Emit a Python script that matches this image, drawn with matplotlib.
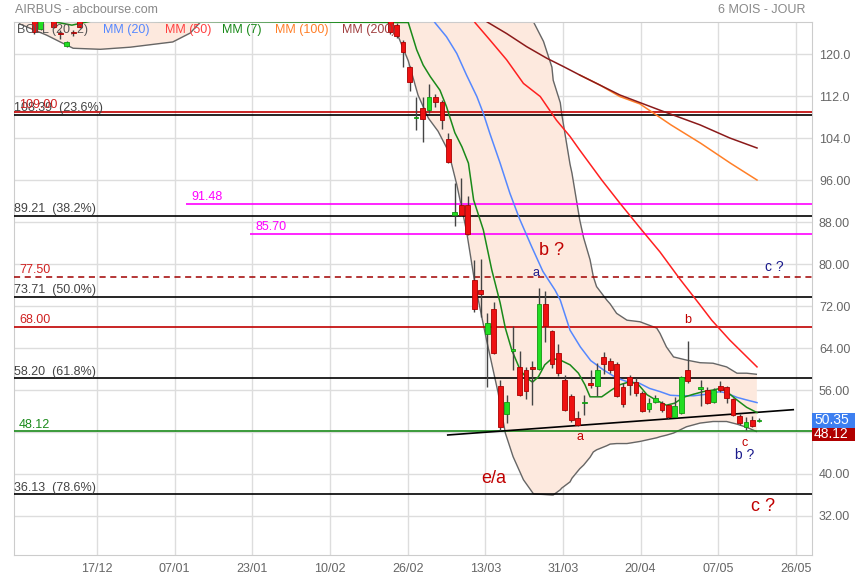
import matplotlib
matplotlib.use('Agg')
import numpy as np
import matplotlib.pyplot as plt
from matplotlib import font_manager
from matplotlib.patches import Rectangle

names = {f.name for f in font_manager.fontManager.ttflist}
base_font = 'Liberation Sans' if 'Liberation Sans' in names else 'DejaVu Sans'
narrow_font = 'Liberation Sans Narrow' if 'Liberation Sans Narrow' in names else base_font
plt.rcParams['font.family'] = [base_font, 'DejaVu Sans']

# --- candles (bar index, 17/12 = 0) ---
c_idx = [-10, -9, -7, -6, -5, -4, -3,
         45, 46, 47, 48, 49, 50, 51, 52, 53, 54, 55, 56, 57, 58, 59, 60,
         61, 62, 63, 64, 65, 66, 67, 68, 69, 70, 71, 72, 73, 74, 75, 76,
         77, 78, 79, 80, 81, 82, 83, 84, 85, 86, 87, 88, 89, 90, 91,
         93, 94, 95, 96, 97, 98, 99, 100, 101, 102]
c_open = [127.5, 124.7, 127.0, 124.0, 121.6, 124.2, 127.0,
          128.0, 125.6, 122.3, 117.5, 107.8, 109.8, 109.4, 111.9, 110.9, 103.9, 89.3, 91.3, 91.3, 77.0, 75.0, 66.7,
          71.4, 56.8, 51.4, 63.5, 60.4, 59.9, 60.4, 60.0, 72.4, 67.2, 63.0, 58.0, 54.9, 50.6, 53.5, 57.4,
          56.8, 62.3, 61.6, 61.0, 56.5, 58.4, 57.6, 55.5, 52.4, 53.8, 53.6, 53.1, 50.9, 51.6, 59.9,
          56.1, 56.0, 53.8, 56.8, 56.5, 54.3, 51.0, 49.0, 50.2, 50.1]
c_high = [128.0, 127.5, 127.5, 124.6, 122.4, 124.6, 127.5,
          128.5, 126.0, 122.6, 117.7, 111.9, 111.9, 114.3, 112.4, 111.2, 105.0, 95.4, 96.4, 92.9, 80.8, 80.9, 70.6,
          72.8, 58.0, 55.0, 68.2, 63.5, 60.4, 61.5, 75.4, 74.9, 67.5, 64.8, 58.8, 55.3, 52.0, 55.0, 59.8,
          61.1, 63.3, 62.1, 61.3, 57.3, 58.8, 58.2, 55.9, 54.4, 55.0, 54.0, 53.3, 54.7, 58.6, 65.3,
          57.9, 56.5, 56.3, 57.7, 56.8, 54.5, 51.5, 50.8, 51.0, 50.6]
c_low = [123.8, 124.5, 124.9, 122.8, 121.3, 123.4, 125.0,
         123.9, 123.0, 117.6, 113.0, 105.6, 103.3, 108.8, 110.0, 105.8, 99.3, 87.2, 89.2, 85.6, 70.9, 70.0, 56.6,
         62.8, 48.4, 49.8, 59.8, 54.9, 54.3, 53.1, 59.8, 65.2, 60.1, 58.6, 52.0, 50.0, 49.1, 51.2, 56.3,
         54.9, 59.0, 59.3, 54.6, 52.8, 55.0, 54.9, 51.8, 51.9, 53.5, 51.9, 50.4, 50.8, 51.4, 57.3,
         53.0, 53.4, 53.6, 55.6, 53.6, 51.0, 49.3, 48.4, 48.9, 50.0]
c_close = [124.1, 127.0, 125.1, 123.8, 122.2, 124.0, 125.2,
           124.2, 123.4, 120.3, 114.7, 108.0, 107.6, 111.9, 110.9, 107.5, 99.4, 89.9, 89.4, 85.8, 71.4, 74.3, 68.8,
           63.0, 49.0, 53.8, 63.9, 55.0, 55.9, 60.0, 72.4, 68.1, 60.9, 59.3, 52.1, 50.2, 49.3, 53.7, 57.0,
           59.8, 60.9, 59.9, 54.9, 53.3, 56.9, 55.5, 52.0, 53.6, 54.4, 52.2, 50.9, 52.9, 58.4, 57.7,
           56.5, 53.6, 56.0, 56.0, 54.4, 51.2, 49.7, 50.0, 49.1, 50.35]

# --- moving averages (bar index, value) ---
mm7_x = [-7.6, -4.2, -1.1, 47.8, 49.1, 50.1, 51.2, 52.7, 53.7, 55.0, 56.1, 57.1, 57.9, 59.4, 60.7, 62.0,
         62.8, 63.8, 65.1, 66.1, 67.0, 67.9, 68.9, 70.0, 71.3, 72.8, 74.1, 75.1, 75.9, 77.7, 79.2, 80.5,
         82.1, 83.4, 84.7, 86.2, 87.7, 89.0, 90.3, 91.9, 93.4, 94.9, 96.0, 97.0, 98.6, 100.1, 101.7]
mm7_y = [126.3, 125.5, 126.3, 126.0, 120.8, 117.9, 115.7, 113.1, 110.0, 105.0, 102.3, 99.2, 92.2, 86.5, 78.9, 72.6,
         67.8, 63.6, 59.8, 58.3, 57.5, 58.5, 60.8, 62.0, 61.7, 60.8, 59.2, 57.0, 54.7, 54.7, 56.0, 57.0,
         57.6, 57.0, 55.1, 54.0, 53.1, 53.5, 54.6, 55.2, 55.7, 56.0, 56.3, 55.7, 54.1, 52.7, 51.7]
mm20_x = [51.9, 53.7, 55.3, 56.8, 58.4, 59.4, 60.4, 62.0, 63.5, 65.0, 66.8, 68.6, 70.5, 71.3, 72.8, 74.4,
          76.0, 78.0, 80.0, 81.6, 83.5, 85.1, 86.7, 88.3, 89.8, 91.9, 94.0, 96.0, 97.0, 98.6, 100.1, 101.7]
mm20_y = [126.0, 123.3, 120.1, 116.0, 111.9, 108.7, 104.9, 99.2, 93.5, 88.6, 83.5, 78.6, 75.0, 73.1, 67.4, 64.2,
          61.6, 59.8, 58.3, 57.6, 57.3, 56.3, 55.7, 55.0, 54.9, 54.9, 55.2, 55.7, 55.4, 54.6, 54.1, 53.6]
mm50_x = [58.1, 60.4, 63.0, 65.6, 68.2, 70.7, 72.8, 74.3, 77.7, 80.5, 83.6, 86.7, 89.8, 92.9, 94.7, 97.5, 101.7]
mm50_y = [126.0, 122.7, 118.9, 114.4, 111.9, 107.4, 104.3, 101.7, 96.0, 91.6, 86.9, 82.3, 77.1, 72.2, 69.3, 65.5, 60.4]
mm100_x = [74.3, 77.4, 80.5, 83.6, 88.4, 93.0, 97.6, 101.7]
mm100_y = [116.0, 114.1, 111.9, 110.5, 106.5, 103.0, 99.2, 96.0]
mm200_x = [60.0, 63.0, 66.1, 69.2, 71.8, 74.3, 80.5, 86.7, 92.9, 97.5, 101.7]
mm200_y = [126.1, 123.9, 121.4, 119.2, 117.6, 116.0, 112.2, 109.3, 106.5, 104.0, 102.1]

# --- bollinger (20, 2) ---
boll_x = [-13.0, -12.2, -8.1, -6.0, -4.0, 0.2, 4.8, 11.4, 14.1, 15.6, 25.0, 40.0, 45.7, 47.8, 49.3, 50.9,
          52.4, 54.0, 55.3, 56.8, 58.1, 59.9, 61.7, 62.8, 64.0, 65.6, 67.1, 67.2, 68.7, 70.0, 70.2, 71.3,
          71.5, 72.8, 73.1, 74.3, 74.9, 75.9, 76.4, 76.9, 78.5, 79.0, 80.0, 81.6, 83.6, 86.2, 86.7, 87.7,
          88.8, 90.8, 92.9, 94.9, 97.0, 98.6, 99.1, 100.1, 101.6]
boll_low = [127.0, 125.7, 123.6, 122.3, 121.1, 120.9, 121.3, 122.3, 124.0, 126.0, 128.0, 130.0, 125.0, 118.7, 112.2, 107.8,
            105.3, 101.5, 95.1, 86.3, 76.3, 65.5, 55.4, 47.8, 43.3, 38.9, 36.3, 36.2, 36.1, 36.0, 36.0, 37.0,
            37.3, 38.5, 39.2, 41.0, 41.7, 43.2, 44.2, 44.6, 45.4, 45.7, 45.8, 45.8, 46.2, 46.9, 47.1, 47.4,
            47.8, 49.0, 49.7, 50.0, 50.0, 49.5, 49.3, 48.9, 48.1]
boll_up = [140.0, 140.0, 140.0, 140.0, 140.0, 140.0, 140.0, 140.0, 140.0, 140.0, 142.0, 145.0, 146.0, 146.0, 146.0, 146.0,
           146.0, 146.0, 145.0, 144.0, 143.0, 141.0, 138.0, 136.0, 133.0, 130.0, 126.3, 126.0, 122.4, 117.5, 115.0, 110.7,
           108.7, 99.0, 97.3, 88.4, 85.0, 80.8, 77.6, 75.7, 73.1, 72.4, 70.6, 69.3, 69.0, 67.8, 66.8, 64.2,
           62.3, 61.7, 61.2, 61.1, 60.4, 59.2, 59.2, 59.2, 59.0]

# --- support / resistance lines ---
fib_vals = [108.39, 89.21, 73.71, 58.20, 36.13]
fib_labels = ['108.39  (23.6%)', '89.21  (38.2%)', '73.71  (50.0%)', '58.20  (61.8%)', '36.13  (78.6%)']
red_vals = [109.00, 68.00]
magenta_vals = [91.48, 85.70]
magenta_start = [13.4, 23.3]
dash_val = 77.50
support_val = 48.12
trend_x = [53.9, 107.3]
trend_y = [47.43, 52.25]
last_price = 50.35

tick_pos = [0, 12, 24, 36, 48, 60, 72, 84, 96, 108]
tick_lab = ['17/12', '07/01', '23/01', '10/02', '26/02', '13/03', '31/03', '20/04', '07/05', '26/05']
y_ticks = [32, 40, 48, 56, 64, 72, 80, 88, 96, 104, 112, 120]

XMIN, XMAX = -13.14, 110.2
YMIN, YMAX = 24.57, 126.1

fig = plt.figure(figsize=(8.55, 5.8), dpi=100)
ax = fig.add_axes([14 / 855, 25 / 580, 798 / 855, 533 / 580])
ax.set_xlim(XMIN, XMAX)
ax.set_ylim(YMIN, YMAX)

# grid
for t in tick_pos:
    ax.axvline(t - 0.3, color='#dddddd', lw=1, zorder=0)
for t in y_ticks:
    ax.axhline(t, color='#dddddd', lw=1, zorder=0)

# bollinger band
ax.fill_between(boll_x, boll_low, boll_up, color='#fde9de', lw=0, zorder=1)
ax.plot(boll_x, boll_low, color='#666666', lw=1, zorder=2)
ax.plot(boll_x, boll_up, color='#666666', lw=1, zorder=2)

# reference lines
for v in fib_vals:
    ax.axhline(v, color='black', lw=1.2, zorder=3)
for v in red_vals:
    ax.axhline(v, color='#c00000', lw=1.2, zorder=3)
for v, s in zip(magenta_vals, magenta_start):
    ax.hlines(v, s, XMAX, color='#ff00ff', lw=1.2, zorder=3)
ax.axhline(dash_val, color='#a00000', lw=1.1, ls=(0, (4, 3)), zorder=3)
ax.axhline(support_val, color='#1a8a1a', lw=1.2, zorder=3)
ax.plot(trend_x, trend_y, color='black', lw=1.2, zorder=3)

lab_kw = dict(fontsize=9, va='bottom', zorder=4)
for v, s in zip(fib_vals, fib_labels):
    ax.text(XMIN + 0.05, v + 0.15, s, color='#444444', **lab_kw)
for v in red_vals:
    ax.text(XMIN + 0.8, v + 0.15, f'{v:.2f}', color='#d02020', **lab_kw)
for v, s in zip(magenta_vals, magenta_start):
    ax.text(s + 0.9, v + 0.15, f'{v:.2f}', color='#ff00ff', **lab_kw)
ax.text(XMIN + 0.8, dash_val + 0.15, f'{dash_val:.2f}', color='#d02020', **lab_kw)
ax.text(XMIN + 0.8, support_val + 0.15, f'{support_val:.2f}', color='#1a8a1a', **lab_kw)

# moving averages (MM100 runs under MM200 until they split)
ax.plot(mm100_x, mm100_y, color='#ff7f27', lw=1.1, zorder=5)
ax.plot(mm200_x, mm200_y, color='#8b1a1a', lw=1.1, zorder=5)
ax.plot(mm50_x, mm50_y, color='#ff2020', lw=1.1, zorder=5)
ax.plot(mm20_x, mm20_y, color='#5588ff', lw=1.1, zorder=5)
ax.plot(mm7_x, mm7_y, color='#1a8a1a', lw=1.1, zorder=5)

# candles
c_open = np.array(c_open)
c_close = np.array(c_close)
up = c_close >= c_open
ax.vlines(c_idx, c_low, c_high, color='#444444', lw=1, zorder=6)
body_lo = np.minimum(c_open, c_close)
body_h = np.maximum(np.abs(c_close - c_open), 0.2)
ax.bar(c_idx, body_h, bottom=body_lo, width=0.74,
       color=np.where(up, '#22dd22', '#ee1111'),
       edgecolor=np.where(up, '#119911', '#aa0000'), lw=0.6, zorder=7)

# legend row
legend = [('BOLL (20, 2)', '#555555', 17), ('MM (20)', '#5588ff', 103), ('MM (50)', '#ff4040', 165),
          ('MM (7)', '#1a8a1a', 222), ('MM (100)', '#ff7f27', 275), ('MM (200)', '#a04040', 342)]
for txt, col, px in legend:
    fig.text(px / 855, 1 - 30 / 580, txt, color=col, fontsize=9, va='center', ha='left', zorder=1)

# wave annotations
notes = [('b ?', 70.0, 82.5, '#c00000', 13), ('a', 67.5, 78.3, '#1a1a8c', 9),
         ('e/a', 61.0, 39.2, '#c00000', 13), ('a', 74.3, 47.0, '#c00000', 9),
         ('b', 91.0, 69.3, '#c00000', 9), ('c ?', 104.3, 79.4, '#1a1a8c', 10),
         ('c', 99.8, 45.9, '#c00000', 9), ('b ?', 99.8, 43.6, '#1a1a8c', 10),
         ('c ?', 102.6, 33.9, '#c00000', 13)]
for txt, x, y, col, fs in notes:
    ax.text(x, y, txt, color=col, fontsize=fs, ha='center', va='center', zorder=8)

# axes styling
for sp in ax.spines.values():
    sp.set_color('#cccccc')
ax.yaxis.tick_right()
ax.set_yticks(y_ticks)
ax.set_yticklabels([f'{v:.1f}' if v >= 100 else f'{v:.2f}' for v in y_ticks])
ax.set_xticks([t - 0.3 for t in tick_pos])
ax.set_xticklabels(tick_lab, fontfamily=narrow_font)
ax.tick_params(axis='both', length=0, colors='#666666', labelsize=9)
ax.tick_params(axis='y', pad=5)
ax.tick_params(axis='x', pad=6)

# price tags on the right axis
ytr = ax.get_yaxis_transform()
tag_w = 43 / 798
ax.add_patch(Rectangle((1.0, 46.21), tag_w, 2.67, transform=ytr, fc='#b00000', ec='none',
                       clip_on=False, zorder=9))
ax.text(1.0 + 2 / 798, 47.55, f'{support_val:.2f}', transform=ytr, color='white',
        fontsize=10, ha='left', va='center', zorder=9, clip_on=False)
ax.add_patch(Rectangle((1.0, 48.76), tag_w, 2.86, transform=ytr, fc='#3d7ff0', ec='none',
                       clip_on=False, zorder=10))
ax.text(1.0 + 2 / 798, 50.22, f'{last_price:.2f}', transform=ytr, color='white',
        fontsize=10, ha='left', va='center', zorder=11, clip_on=False)

fig.text(15 / 855, 1 - 10 / 580, 'AIRBUS - abcbourse.com', color='#888888', fontsize=9, va='center')
fig.text(805 / 855, 1 - 10 / 580, '6 MOIS - JOUR', color='#888888', fontsize=9, va='center', ha='right')

fig.savefig('out.png', dpi=100)
